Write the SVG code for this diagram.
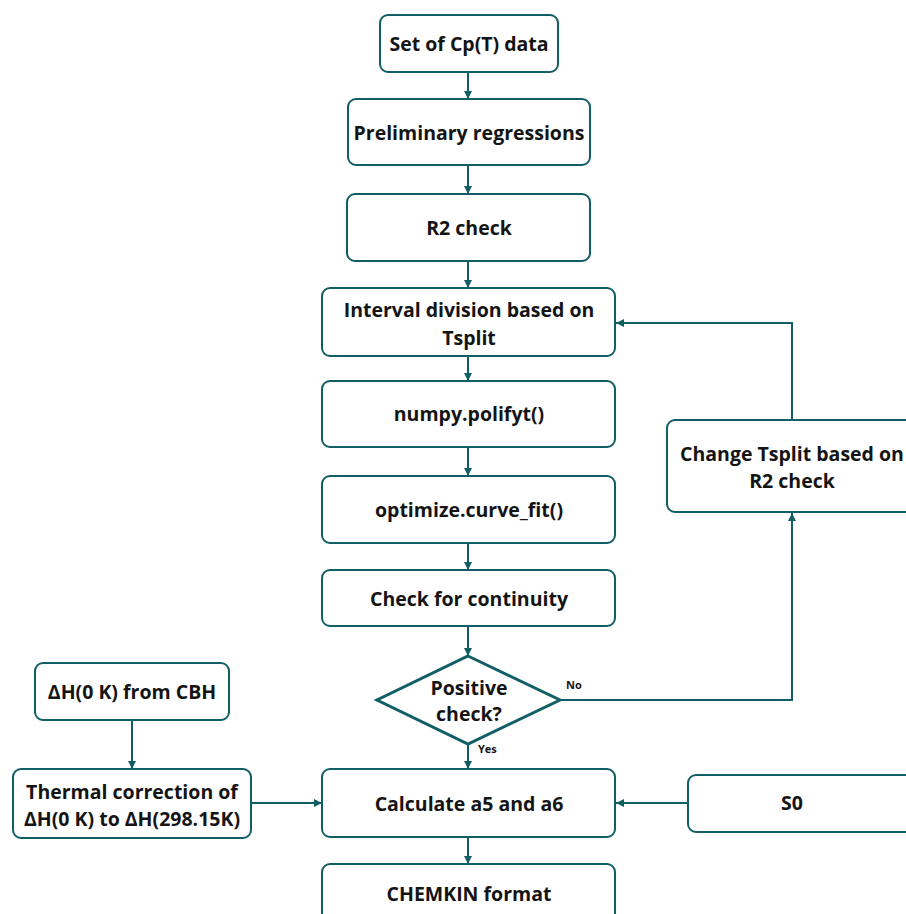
<svg xmlns="http://www.w3.org/2000/svg" width="906" height="914" viewBox="0 0 906 914">
<defs>
<marker id="ah" viewBox="0 0 10 10" refX="10" refY="5" markerWidth="8" markerHeight="8" orient="auto" markerUnits="userSpaceOnUse">
<path d="M0,0 L10,5 L0,10 z" fill="#125e66"/>
</marker>
<style>
.box{fill:#fff;stroke:#125e66;stroke-width:2}
.t{font-family:"Open Sans","Noto Sans",sans-serif;font-weight:700;font-size:19.5px;fill:#141414;text-anchor:middle}
.s{font-family:"Open Sans","Noto Sans",sans-serif;font-weight:700;font-size:11px;fill:#141414}
.c{fill:none;stroke:#125e66;stroke-width:2;marker-end:url(#ah)}
</style>
</defs>
<rect width="906" height="914" fill="#fff"/>
<g id="connectors">
<path class="c" d="M468,72 V99"/>
<path class="c" d="M468,165 V194"/>
<path class="c" d="M468,261 V288"/>
<path class="c" d="M468,356 V381"/>
<path class="c" d="M468,447 V476"/>
<path class="c" d="M468,543 V570"/>
<path class="c" d="M468,626 V656"/>
<path class="c" d="M468,745 V769"/>
<path class="c" d="M468,838 V864"/>
<path class="c" d="M560,700 H792 V513"/>
<path class="c" d="M792,420 V323 H616"/>
<path class="c" d="M132,720 V769"/>
<path class="c" d="M251,803 H322"/>
<path class="c" d="M688,803 H616"/>
<text class="s" x="566" y="689">No</text>
<text class="s" x="478" y="753">Yes</text>
</g>
<g id="n1"><rect class="box" x="380" y="15" width="178" height="57" rx="8"/><text class="t" x="469" y="51">Set of Cp(T) data</text></g>
<g id="n2"><rect class="box" x="348" y="99" width="242" height="66" rx="8"/><text class="t" x="469" y="140">Preliminary regressions</text></g>
<g id="n3"><rect class="box" x="347" y="194" width="243" height="67" rx="8"/><text class="t" x="469" y="235">R2 check</text></g>
<g id="n4"><rect class="box" x="322" y="288" width="293" height="68" rx="8"/><text class="t" x="469" y="317">Interval division based on</text><text class="t" x="469" y="345">Tsplit</text></g>
<g id="n5"><rect class="box" x="322" y="381" width="293" height="66" rx="8"/><text class="t" x="469" y="421">numpy.polifyt()</text></g>
<g id="n6"><rect class="box" x="322" y="476" width="293" height="67" rx="8"/><text class="t" x="469" y="517">optimize.curve_fit()</text></g>
<g id="n7"><rect class="box" x="322" y="570" width="293" height="56" rx="8"/><text class="t" x="469" y="606">Check for continuity</text></g>
<g id="n8"><path d="M468,656 L560,700 L468,744 L377,700 Z" fill="#fff" stroke="#125e66" stroke-width="3"/><text class="t" x="469" y="695">Positive</text><text class="t" x="469" y="721">check?</text></g>
<g id="n9"><rect class="box" x="322" y="769" width="293" height="68" rx="8"/><text class="t" x="469" y="811">Calculate a5 and a6</text></g>
<g id="n10"><rect class="box" x="322" y="864" width="293" height="68" rx="8"/><text class="t" x="469" y="901">CHEMKIN format</text></g>
<g id="n11"><rect class="box" x="667" y="420" width="250" height="92" rx="8"/><text class="t" x="792" y="461">Change Tsplit based on</text><text class="t" x="792" y="488">R2 check</text></g>
<g id="n12"><rect class="box" x="688" y="775" width="230" height="57" rx="8"/><text class="t" x="792" y="810">S0</text></g>
<g id="n13"><rect class="box" x="35" y="663" width="194" height="57" rx="8"/><text class="t" x="132" y="699">ΔH(0 K) from CBH</text></g>
<g id="n14"><rect class="box" x="13" y="769" width="238" height="69" rx="8"/><text class="t" x="132" y="799">Thermal correction of</text><text class="t" x="132" y="826">ΔH(0 K) to ΔH(298.15K)</text></g>
</svg>
